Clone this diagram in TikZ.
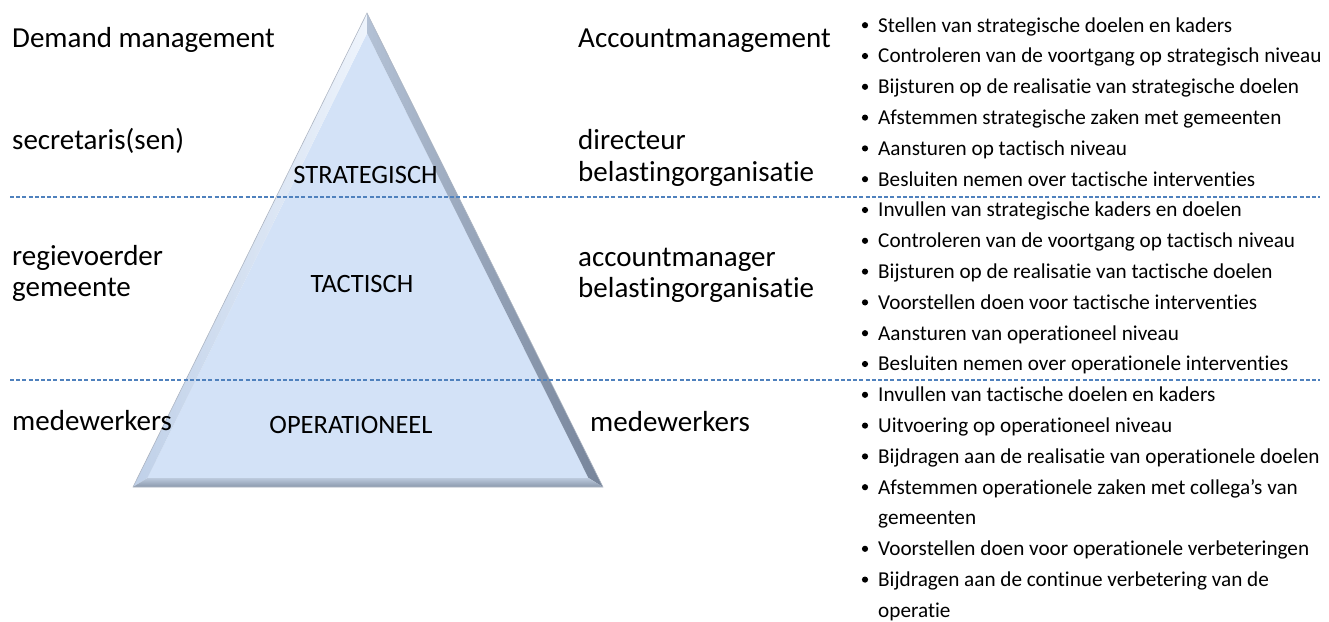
\documentclass[tikz,border=0pt]{standalone}
\usepackage{fontspec}
\setmainfont{Carlito}[Ligatures={NoCommon,NoContextual}]
\usetikzlibrary{calc}
\definecolor{dashblue}{HTML}{4F81BD}
\definecolor{trifill}{HTML}{D3E2F7}
\definecolor{bevlight}{HTML}{EEF4FC}
\definecolor{bevlightout}{HTML}{BFD0E8}
\definecolor{bevdarkout}{HTML}{76849A}
\definecolor{bevdarkin}{HTML}{B3C1D5}
\definecolor{bevbotout}{HTML}{8A98AC}
\definecolor{bevbotin}{HTML}{BCCADD}
\tikzset{
  lbl/.style={inner sep=0pt, anchor=base west, font=\fontsize{29}{34}\selectfont},
  lvl/.style={inner sep=0pt, anchor=base, font=\fontsize{26.5}{31}\selectfont},
  itm/.style={inner sep=0pt, anchor=base west, font=\fontsize{21.2}{25}\selectfont},
  sep/.style={draw=dashblue, line width=1.6pt, dash pattern=on 4pt off 2.2pt},
}
\begin{document}
\begin{tikzpicture}[x=1pt,y=-1pt]
\useasboundingbox (0,0) rectangle (1329,621);

% pyramid with bevelled edges
\coordinate (A) at (367,13);
\coordinate (B) at (133,487);
\coordinate (C) at (603,487);
\coordinate (I) at (367.55,341.2);
\coordinate (Ai) at ($(I)!0.9383!(A)$);
\coordinate (Bi) at ($(I)!0.9383!(B)$);
\coordinate (Ci) at ($(I)!0.9383!(C)$);
\fill[trifill] (Ai) -- (Bi) -- (Ci) -- cycle;
\shade[left color=bevlightout, right color=bevlight] (A) -- (B) -- (Bi) -- (Ai) -- cycle;
\shade[left color=bevdarkin, right color=bevdarkout] (A) -- (Ai) -- (Ci) -- (C) -- cycle;
\shade[top color=bevbotin, bottom color=bevbotout] (Bi) -- (B) -- (C) -- (Ci) -- cycle;
\draw[bevdarkout!60, line width=0.6pt] (A) -- (B) -- (C) -- cycle;

% level separators
\coordinate (s1w) at (10,197);
\coordinate (s1e) at (1320,197);
\coordinate (s2w) at (10,380);
\coordinate (s2e) at (1320,380);
\draw[sep] (s1w) -- (s1e);
\draw[sep] (s2w) -- (s2e);

% levels inside the pyramid
\node[lvl] (strat) at (365.5,183) {STRATEGISCH};
\node[lvl] (tact) at (362,292) {TACTISCH};
\node[lvl] (oper) at (351,433) {OPERATIONEEL};

% demand side
\node[lbl] (dm) at (12,47) {Demand management};
\node[lbl] (secr) at (12,149) {secretaris(sen)};
\node[lbl] (regie1) at (12,265) {regievoerder};
\node[lbl] (regie2) at (12,296.5) {gemeente};
\node[lbl] (medl) at (12,430) {medewerkers};

% supply side
\node[lbl] (am) at (578,47) {Accountmanagement};
\node[lbl] (dir1) at (578,149) {directeur};
\node[lbl] (dir2) at (578,181) {belastingorganisatie};
\node[lbl] (acc1) at (578,266) {accountmanager};
\node[lbl] (acc2) at (578,297) {belastingorganisatie};
\node[lbl] (medr) at (590,431) {medewerkers};

% tasks per level
\foreach \t/\b [count=\i] in {
  Stellen van strategische doelen en kaders/1,
  Controleren van de voortgang op strategisch niveau/1,
  Bijsturen op de realisatie van strategische doelen/1,
  Afstemmen strategische zaken met gemeenten/1,
  Aansturen op tactisch niveau/1,
  Besluiten nemen over tactische interventies/1,
  Invullen van strategische kaders en doelen/1,
  Controleren van de voortgang op tactisch niveau/1,
  Bijsturen op de realisatie van tactische doelen/1,
  Voorstellen doen voor tactische interventies/1,
  Aansturen van operationeel niveau/1,
  Besluiten nemen over operationele interventies/1,
  Invullen van tactische doelen en kaders/1,
  Uitvoering op operationeel niveau/1,
  Bijdragen aan de realisatie van operationele doelen/1,
  Afstemmen operationele zaken met collega’s van/1,
  gemeenten/0,
  Voorstellen doen voor operationele verbeteringen/1,
  Bijdragen aan de continue verbetering van de/1,
  operatie/0}{
  \pgfmathsetmacro{\yy}{32+(\i-1)*30.8}
  \node[itm] (task\i) at (878,\yy) {\t};
  \ifnum\b=1
    \fill (865,\yy-6.8) circle (3.1);
  \fi
}
\end{tikzpicture}
\end{document}
